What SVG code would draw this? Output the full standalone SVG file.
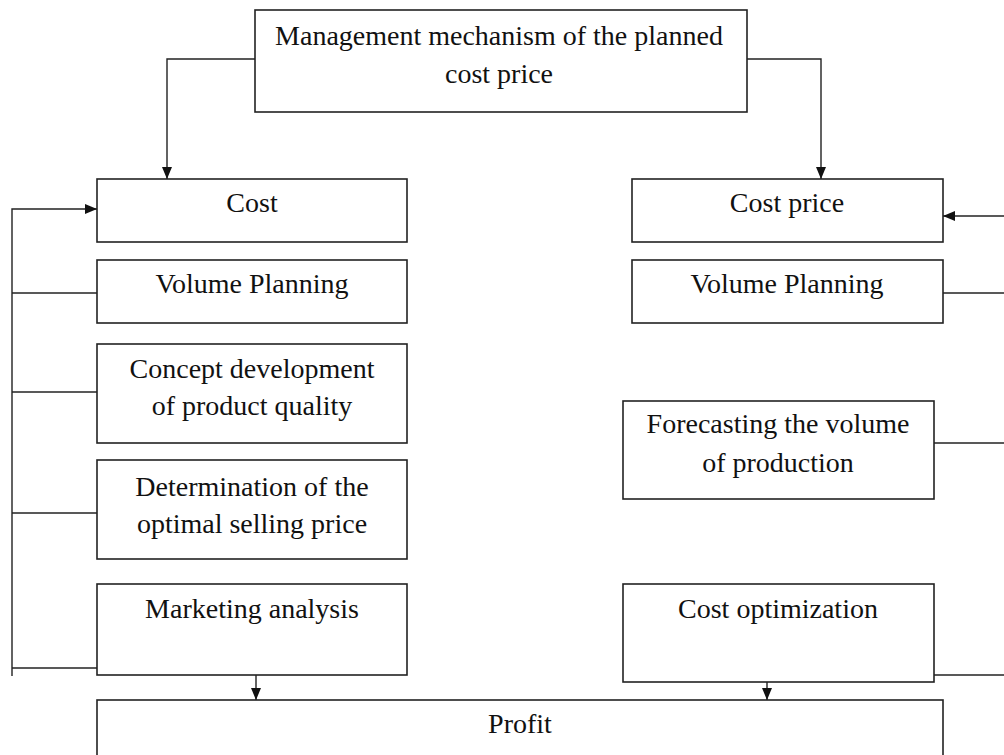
<svg xmlns="http://www.w3.org/2000/svg" width="1004" height="755" viewBox="0 0 1004 755">
  <defs>
    <marker id="arrow" viewBox="0 0 12 10" refX="12" refY="5" markerWidth="12" markerHeight="10" markerUnits="userSpaceOnUse" orient="auto">
      <path d="M0,0 L12,5 L0,10 Z" fill="#111"/>
    </marker>
    <style>
      .box { fill: #fff; stroke: #222; stroke-width: 1.6; }
      .link { fill: none; stroke: #222; stroke-width: 1.4; }
      .lbl { font-family: "Liberation Serif", "Times New Roman", serif; font-size: 28px; fill: #111; text-anchor: middle; }
    </style>
  </defs>

  <rect width="1004" height="755" fill="#fff"/>

  <!-- connectors -->
  <g id="connectors">
    <!-- from the top box down to both columns -->
    <path class="link" d="M255,59 H167 V179" marker-end="url(#arrow)"/>
    <path class="link" d="M747,59 H821 V179" marker-end="url(#arrow)"/>
    <!-- left feedback loop -->
    <path class="link" d="M12,676 V209 H97" marker-end="url(#arrow)"/>
    <path class="link" d="M12,293 H97"/>
    <path class="link" d="M12,392 H97"/>
    <path class="link" d="M12,513 H97"/>
    <path class="link" d="M12,668 H97"/>
    <!-- right feedback loop -->
    <path class="link" d="M1004,216 H943" marker-end="url(#arrow)"/>
    <path class="link" d="M943,293 H1004"/>
    <path class="link" d="M934,443 H1004"/>
    <path class="link" d="M934,675 H1004"/>
    <!-- into profit -->
    <path class="link" d="M256,675 V700" marker-end="url(#arrow)"/>
    <path class="link" d="M767,682 V700" marker-end="url(#arrow)"/>
  </g>

  <g id="mechanism">
    <rect class="box" x="255" y="10" width="492" height="102"/>
    <text class="lbl" x="499" y="45">Management mechanism of the planned</text>
    <text class="lbl" x="499" y="83">cost price</text>
  </g>

  <g id="cost">
    <rect class="box" x="97" y="179" width="310" height="63"/>
    <text class="lbl" x="252" y="212">Cost</text>
  </g>
  <g id="volume-left">
    <rect class="box" x="97" y="260" width="310" height="63"/>
    <text class="lbl" x="252" y="293">Volume Planning</text>
  </g>
  <g id="concept">
    <rect class="box" x="97" y="344" width="310" height="99"/>
    <text class="lbl" x="252" y="378">Concept development</text>
    <text class="lbl" x="252" y="415">of product quality</text>
  </g>
  <g id="selling-price">
    <rect class="box" x="97" y="460" width="310" height="99"/>
    <text class="lbl" x="252" y="496">Determination of the</text>
    <text class="lbl" x="252" y="533">optimal selling price</text>
  </g>
  <g id="marketing">
    <rect class="box" x="97" y="584" width="310" height="91"/>
    <text class="lbl" x="252" y="618">Marketing analysis</text>
  </g>

  <g id="cost-price">
    <rect class="box" x="632" y="179" width="311" height="63"/>
    <text class="lbl" x="787" y="212">Cost price</text>
  </g>
  <g id="volume-right">
    <rect class="box" x="632" y="260" width="311" height="63"/>
    <text class="lbl" x="787" y="293">Volume Planning</text>
  </g>
  <g id="forecasting">
    <rect class="box" x="623" y="401" width="311" height="98"/>
    <text class="lbl" x="778" y="433">Forecasting the volume</text>
    <text class="lbl" x="778" y="472">of production</text>
  </g>
  <g id="optimization">
    <rect class="box" x="623" y="584" width="311" height="98"/>
    <text class="lbl" x="778" y="618">Cost optimization</text>
  </g>

  <g id="profit">
    <rect class="box" x="97" y="700" width="846" height="80"/>
    <text class="lbl" x="520" y="733">Profit</text>
  </g>
</svg>
